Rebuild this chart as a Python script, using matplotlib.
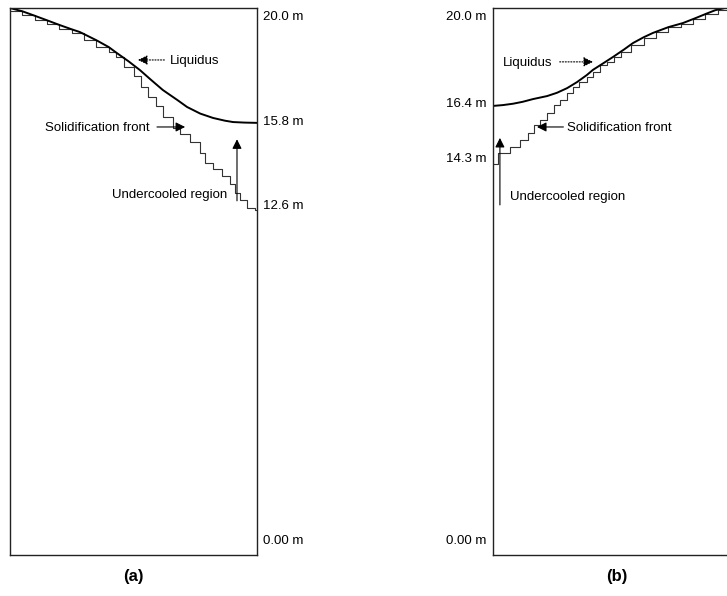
import numpy as np
import matplotlib.pyplot as plt

plt.rcParams["font.family"] = ["Liberation Sans", "DejaVu Sans"]

# panel (a): liquidus falls from 20.0 m to 15.8 m
liq_a_x = [0.00, 0.05, 0.093, 0.15, 0.20, 0.25, 0.283, 0.35, 0.40, 0.433, 0.48, 0.526, 0.57, 0.619, 0.68, 0.717,
           0.77, 0.822, 0.87, 0.903, 0.95, 1.00]
liq_a_y = [20.0, 19.88, 19.74, 19.55, 19.38, 19.22, 19.12, 18.82, 18.57, 18.35, 18.05, 17.73, 17.38, 17.0, 16.62, 16.38,
           16.14, 15.98, 15.88, 15.83, 15.81, 15.8]
front_a_x = [0.00, 0.05, 0.10, 0.15, 0.20, 0.25, 0.30, 0.35, 0.40, 0.43, 0.46, 0.50, 0.53, 0.56, 0.59, 0.62, 0.66,
             0.69, 0.73, 0.77, 0.79, 0.82, 0.86, 0.89, 0.91, 0.93, 0.96, 0.99, 1.00]
front_a_y = [19.9, 19.74, 19.57, 19.4, 19.24, 19.07, 18.84, 18.58, 18.38, 18.2, 17.85, 17.5, 17.1, 16.75, 16.4, 16.0, 15.62,
             15.38, 15.1, 14.7, 14.35, 14.1, 13.85, 13.55, 13.25, 12.98, 12.7, 12.6, 12.6]
levels_a = ["20.0 m", "15.8 m", "12.6 m", "0.00 m"]
level_a_y = [19.67, 15.83, 12.76, 0.51]

# panel (b): liquidus rises from 16.4 m to 20.0 m
liq_b_x = [0.00, 0.04, 0.081, 0.12, 0.162, 0.219, 0.259, 0.30, 0.34, 0.38, 0.405, 0.45, 0.486, 0.53, 0.567, 0.61,
           0.648, 0.71, 0.769, 0.82, 0.866, 0.90, 0.939, 1.00]
liq_b_y = [16.42, 16.45, 16.5, 16.57, 16.67, 16.78, 16.9, 17.07, 17.29, 17.55, 17.74, 18.0, 18.21, 18.48, 18.72, 18.93,
           19.09, 19.3, 19.45, 19.63, 19.8, 19.92, 20.0, 20.0]
front_b_x = [0.00, 0.02, 0.07, 0.11, 0.14, 0.165, 0.19, 0.22, 0.245, 0.27, 0.30, 0.325, 0.35, 0.38, 0.405, 0.435,
             0.46, 0.49, 0.52, 0.56, 0.61, 0.66, 0.71, 0.76, 0.81, 0.86, 0.91, 0.95]
front_b_y = [14.3, 14.7, 14.92, 15.17, 15.43, 15.72, 15.9, 16.16, 16.45, 16.64, 16.89, 17.11, 17.29, 17.48, 17.66, 17.92,
             18.03, 18.21, 18.38, 18.66, 18.9, 19.12, 19.3, 19.43, 19.6, 19.79, 19.93, 20.0]
levels_b = ["20.0 m", "16.4 m", "14.3 m", "0.00 m"]
level_b_y = [19.67, 16.49, 14.48, 0.51]

W, H = 727, 596
fig = plt.figure(figsize=(W / 100, H / 100), dpi=100)
ax_a = fig.add_axes([10 / W, 1 - 555 / H, 247 / W, 547 / H])
ax_b = fig.add_axes([493 / W, 1 - 555 / H, 247 / W, 547 / H])

for ax in (ax_a, ax_b):
    ax.set_xlim(0, 1)
    ax.set_ylim(0, 20)
    ax.set_xticks([])
    ax.set_yticks([])
    for s in ax.spines.values():
        s.set_linewidth(1.0)
        s.set_color("#222222")

fs = 9.5
arrow = dict(arrowstyle="-|>", mutation_scale=14, lw=0.8, color="black", shrinkA=0, shrinkB=0)
dotted = dict(arrowstyle="-|>", mutation_scale=14, lw=0.8, color="black", linestyle=(0, (1, 1.5)), shrinkA=0, shrinkB=0)

# (a)
ax_a.step(front_a_x, front_a_y, where="post", color="#333333", lw=0.8)
ax_a.plot(liq_a_x, liq_a_y, color="black", lw=1.4)
ax_a.annotate("", xy=(0.518, 18.10), xytext=(0.625, 18.10), arrowprops=dotted)
ax_a.text(0.648, 18.05, "Liquidus", fontsize=fs, va="center", ha="left")
ax_a.annotate("", xy=(0.709, 15.65), xytext=(0.595, 15.65), arrowprops=arrow)
ax_a.text(0.567, 15.62, "Solidification front", fontsize=fs, va="center", ha="right")
ax_a.annotate("", xy=(0.919, 15.2), xytext=(0.919, 12.95), arrowprops=arrow)
ax_a.text(0.879, 13.16, "Undercooled region", fontsize=fs, va="center", ha="right")
for lab, y in zip(levels_a, level_a_y):
    ax_a.text(1.024, y, lab, fontsize=fs, va="center", ha="left", clip_on=False)
ax_a.text(0.5, -0.04, "(a)", transform=ax_a.transAxes, fontsize=12, fontweight="bold", ha="center", va="center")

# (b)
ax_b.step(front_b_x, front_b_y, where="post", color="#333333", lw=0.8)
ax_b.plot(liq_b_x, liq_b_y, color="black", lw=1.4)
ax_b.annotate("", xy=(0.405, 18.03), xytext=(0.27, 18.03), arrowprops=dotted)
ax_b.text(0.040, 17.99, "Liquidus", fontsize=fs, va="center", ha="left")
ax_b.annotate("", xy=(0.178, 15.65), xytext=(0.285, 15.65), arrowprops=arrow)
ax_b.text(0.300, 15.62, "Solidification front", fontsize=fs, va="center", ha="left")
ax_b.annotate("", xy=(0.028, 15.25), xytext=(0.028, 12.8), arrowprops=arrow)
ax_b.text(0.069, 13.09, "Undercooled region", fontsize=fs, va="center", ha="left")
for lab, y in zip(levels_b, level_b_y):
    ax_b.text(-0.028, y, lab, fontsize=fs, va="center", ha="right", clip_on=False)
ax_b.text(0.5, -0.04, "(b)", transform=ax_b.transAxes, fontsize=12, fontweight="bold", ha="center", va="center")

fig.savefig("out.png", dpi=100)
